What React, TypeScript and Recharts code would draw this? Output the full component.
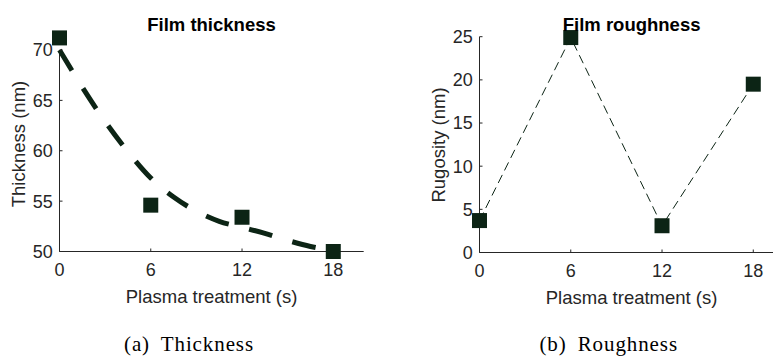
import React from "react";
import { Line, LineChart, ReferenceLine, XAxis, YAxis } from "recharts";

// plasma treatment time (s) for the measured samples
const treatmentTimes = [0, 6, 12, 18];
const thicknessValues = [71.2, 54.6, 53.4, 50.0];
const roughnessValues = [3.7, 24.9, 3.1, 19.5];

// fitted decay curve
const fitTimes = [0, 1.5, 3, 4.5, 6, 7.5, 9, 10.5, 12, 13.5, 15, 16.5, 18];
const fitValues = [70.0, 66.3, 62.9, 59.9, 57.3, 55.4, 54.0, 53.0, 52.4, 51.8, 51.1, 50.5, 50.1];

const timeTicks = [0, 6, 12, 18];
const thicknessTicks = [50, 55, 60, 65, 70];
const roughnessTicks = [0, 5, 10, 15, 20, 25];

const MARK = "#0c2415";
const AXIS = "#262626";
const SANS = "'Liberation Sans', Arial, sans-serif";

const thicknessData = treatmentTimes.map((t, i) => ({ t, v: thicknessValues[i] }));
const roughnessData = treatmentTimes.map((t, i) => ({ t, v: roughnessValues[i] }));
const fitData = fitTimes.map((t, i) => ({ t, v: fitValues[i] }));

const tickStyle = { fill: AXIS, fontSize: 18, fontFamily: SANS };

const squareDot = (props: any) => {
  const { cx, cy, index } = props;
  if (cx == null || cy == null) return <g key={index} />;
  return <rect key={index} x={cx - 7.5} y={cy - 7.5} width={15} height={15} fill={MARK} />;
};

const xLabel = (text: string) => (props: any) => {
  const vb = props.viewBox;
  return (
    <text x={vb.x + vb.width / 2} y={vb.y + 51.8} textAnchor="middle" fill={AXIS}
      fontSize={18.5} fontFamily={SANS}>{text}</text>
  );
};

const yLabel = (text: string, cy: number) => () => (
  <text x={25} y={cy} transform={`rotate(-90, 25, ${cy})`} textAnchor="middle" fill={AXIS}
    fontSize={18.5} fontFamily={SANS}>{text}</text>
);

const Title = ({ text, cx }: { text: string; cx: number }) => (
  <div style={{
    position: "absolute", left: cx - 150, width: 300, top: 15.8, textAlign: "center",
    fontFamily: SANS, fontWeight: "bold", fontSize: 18.5, lineHeight: "18.5px", color: "#000",
  }}>{text}</div>
);

const Caption = ({ text, cx }: { text: string; cx: number }) => (
  <div style={{
    position: "absolute", left: cx - 150, width: 300, top: 334, textAlign: "center",
    fontFamily: "'Liberation Serif', 'Times New Roman', serif", fontSize: 21, lineHeight: "21px",
    letterSpacing: 0.9, wordSpacing: 5, color: "#000",
  }}>{text}</div>
);

export default function App() {
  return (
    <div style={{ position: "absolute", left: 0, top: 0, width: 773, height: 360, overflow: "hidden", background: "#fff" }}>
      <div style={{ position: "absolute", left: 0, top: 0 }}>
        <LineChart width={400} height={360} margin={{ top: 29.85, right: 36.3, bottom: 0, left: 0 }}>
          <XAxis type="number" dataKey="t" domain={[0, 20]} ticks={timeTicks} height={108.5}
            stroke={AXIS} tickSize={-3} tickMargin={14.7} tick={tickStyle}
            label={{ content: xLabel("Plasma treatment (s)") }} />
          <YAxis type="number" domain={[50, 72]} ticks={thicknessTicks} width={59.5}
            axisLine={false} stroke={AXIS} tickSize={-3} tickMargin={9.8} tick={tickStyle}
            label={{ content: yLabel("Thickness (nm)", 144) }} />
          <ReferenceLine segment={[{ x: 0, y: 50 }, { x: 0, y: 70 }]} stroke={AXIS} strokeWidth={1} />
          <Line data={fitData} dataKey="v" type="monotone" stroke={MARK} strokeWidth={5}
            strokeDasharray="24 21" dot={false} activeDot={false} isAnimationActive={false} />
          <Line data={thicknessData} dataKey="v" stroke="none" dot={squareDot} activeDot={false}
            isAnimationActive={false} />
        </LineChart>
      </div>
      <div style={{ position: "absolute", left: 420, top: 0 }}>
        <LineChart width={400} height={360} margin={{ top: 36.7, right: 36.3, bottom: 0, left: 0 }}>
          <XAxis type="number" dataKey="t" domain={[0, 20]} ticks={timeTicks} height={107.5}
            stroke={AXIS} tickSize={-3} tickMargin={14.7} tick={tickStyle}
            label={{ content: xLabel("Plasma treatment (s)") }} />
          <YAxis type="number" domain={[0, 25]} ticks={roughnessTicks} width={59.5}
            stroke={AXIS} tickSize={-3} tickMargin={9.8} tick={tickStyle}
            label={{ content: yLabel("Rugosity (nm)", 145) }} />
          <Line data={roughnessData} dataKey="v" type="linear" stroke={MARK} strokeWidth={1}
            strokeDasharray="9 5" dot={squareDot} activeDot={false} isAnimationActive={false} />
        </LineChart>
      </div>
      <Title text="Film thickness" cx={211.5} />
      <Title text="Film roughness" cx={631.6} />
      <Caption text="(a) Thickness" cx={189} />
      <Caption text="(b) Roughness" cx={608.7} />
    </div>
  );
}
